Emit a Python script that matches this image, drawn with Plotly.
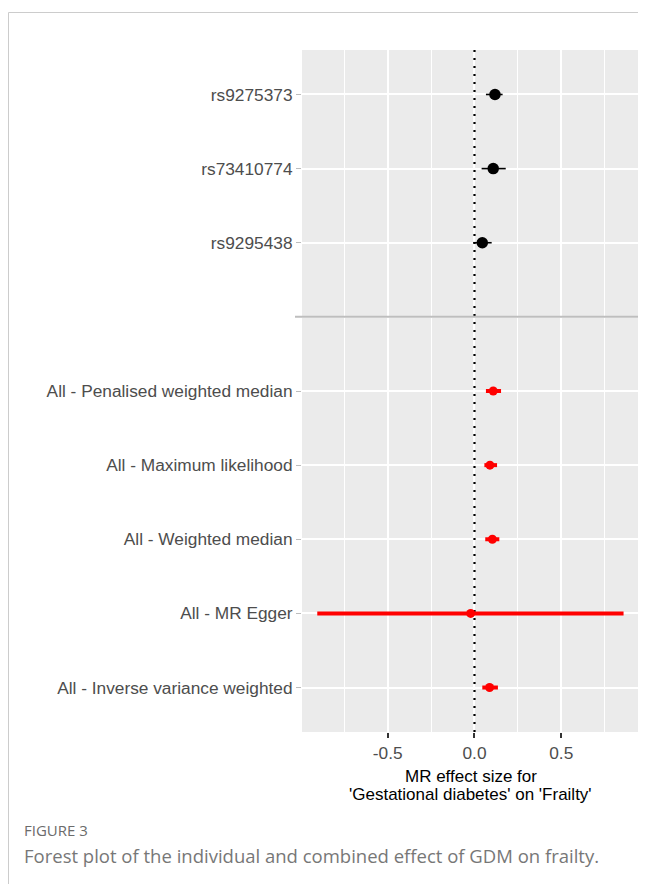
import plotly.graph_objects as go

# ---- data ----
labels = ["All - Inverse variance weighted", "All - MR Egger", "All - Weighted median",
          "All - Maximum likelihood", "All - Penalised weighted median", "",
          "rs9295438", "rs73410774", "rs9275373"]
combined_names = ["All - Inverse variance weighted", "All - MR Egger", "All - Weighted median",
                  "All - Maximum likelihood", "All - Penalised weighted median"]
combined_b = [0.087, -0.022, 0.103, 0.089, 0.108]
combined_lo = [0.045, -0.906, 0.062, 0.057, 0.066]
combined_hi = [0.135, 0.859, 0.143, 0.130, 0.153]

snp_names = ["rs9295438", "rs73410774", "rs9275373"]
snp_b = [0.045, 0.108, 0.118]
snp_lo = [-0.007, 0.041, 0.066]
snp_hi = [0.099, 0.180, 0.162]

x_ticks = [-0.5, 0.0, 0.5]
x_ticktext = ["-0.5", "0.0", "0.5"]
x_minor = [-0.75, -0.25, 0.25, 0.75]
null_effect = 0.0

# page has an 8px body margin, so the figure is offset by 8px
# (height trimmed so the page does not overflow and show a scrollbar)
OFF = 8
W, H = 646 - OFF, 892 - 2 * OFF
L, R, T, B = 302 - OFF, 639 - OFF, 50 - OFF, 732 - OFF
Y_RANGE = [0.4, 9.6]


def px2x(px):
    return (px - OFF - L) / (R - L)


def px2y(py):
    return (B - (py - OFF)) / (B - T)


ypos = {lab: i + 1 for i, lab in enumerate(labels)}
comb_y = [ypos[n] for n in combined_names]
snp_y = [ypos[n] for n in snp_names]

fig = go.Figure()

# dotted null line (drawn first, under the points)
fig.add_trace(go.Scatter(
    x=[null_effect, null_effect], y=Y_RANGE, mode="lines",
    line=dict(color="#000000", width=2.2, dash="2px,6px"),
    showlegend=False, hoverinfo="skip", cliponaxis=True))

fig.add_trace(go.Scatter(
    x=combined_b, y=comb_y, mode="markers",
    marker=dict(color="#FF0000", size=9),
    error_x=dict(type="data", symmetric=False,
                 array=[h - b for h, b in zip(combined_hi, combined_b)],
                 arrayminus=[b - l for b, l in zip(combined_b, combined_lo)],
                 color="#FF0000", thickness=4, width=0),
    showlegend=False, hoverinfo="skip"))

fig.add_trace(go.Scatter(
    x=snp_b, y=snp_y, mode="markers",
    marker=dict(color="#000000", size=11.5),
    error_x=dict(type="data", symmetric=False,
                 array=[h - b for h, b in zip(snp_hi, snp_b)],
                 arrayminus=[b - l for b, l in zip(snp_b, snp_lo)],
                 color="#000000", thickness=1.6, width=0),
    showlegend=False, hoverinfo="skip"))

# separator line (blank category)
fig.add_shape(type="line", xref="paper", yref="y", x0=px2x(295), x1=1, y0=ypos[""], y1=ypos[""],
              line=dict(color="#BEBEBE", width=2), layer="above")

# card borders
fig.add_shape(type="line", xref="paper", yref="paper", x0=px2x(8.5), x1=px2x(646), y0=px2y(12.5), y1=px2y(12.5),
              line=dict(color="#CCCCCC", width=1))
fig.add_shape(type="line", xref="paper", yref="paper", x0=px2x(8.5), x1=px2x(8.5), y0=px2y(12.5), y1=px2y(892),
              line=dict(color="#CCCCCC", width=1))

tick_font = dict(family="Liberation Sans, Arial, sans-serif", size=17.3, color="#4D4D4D")

fig.update_layout(
    width=W, height=H,
    margin=dict(l=L, r=W - R, t=T, b=H - B, pad=0),
    paper_bgcolor="white", plot_bgcolor="#EBEBEB",
    xaxis=dict(range=[-0.994, 0.948], tickvals=x_ticks, ticktext=x_ticktext,
               showgrid=True, gridcolor="white", gridwidth=1.5, zeroline=False,
               ticks="outside", ticklen=5, tickwidth=1.5, tickcolor="#333333",
               tickfont=tick_font, showline=False,
               minor=dict(tickvals=x_minor, showgrid=True, gridcolor="white", gridwidth=0.8, ticks="")),
    yaxis=dict(range=Y_RANGE, tickvals=list(range(1, len(labels) + 1)), ticktext=labels,
               showgrid=True, gridcolor="white", gridwidth=1.5, zeroline=False,
               ticks="outside", ticklen=5, tickwidth=1, tickcolor="#BDBDBD",
               tickfont=tick_font, showline=False),
    font=dict(family="Liberation Sans, Arial, sans-serif"),
)

fig.add_annotation(text="MR effect size for", xref="paper", yref="paper",
                   x=0.5, y=px2y(776), xanchor="center", yanchor="middle", showarrow=False,
                   font=dict(family="Liberation Sans, Arial, sans-serif", size=17, color="#000000"))
fig.add_annotation(text="'Gestational diabetes' on 'Frailty'", xref="paper", yref="paper",
                   x=0.5, y=px2y(794), xanchor="center", yanchor="middle", showarrow=False,
                   font=dict(family="Liberation Sans, Arial, sans-serif", size=17, color="#000000"))
fig.add_annotation(text="FIGURE 3", xref="paper", yref="paper",
                   x=px2x(22), y=px2y(830), xanchor="left", yanchor="middle", showarrow=False,
                   font=dict(family="Open Sans, Noto Sans, sans-serif", size=15, color="#6B6B6B"))
fig.add_annotation(text="Forest plot of the individual and combined effect of GDM on frailty.",
                   xref="paper", yref="paper",
                   x=px2x(22), y=px2y(855), xanchor="left", yanchor="middle", showarrow=False,
                   font=dict(family="Open Sans, Noto Sans, sans-serif", size=18.5, color="#777777"))

fig.write_html("out.html")
